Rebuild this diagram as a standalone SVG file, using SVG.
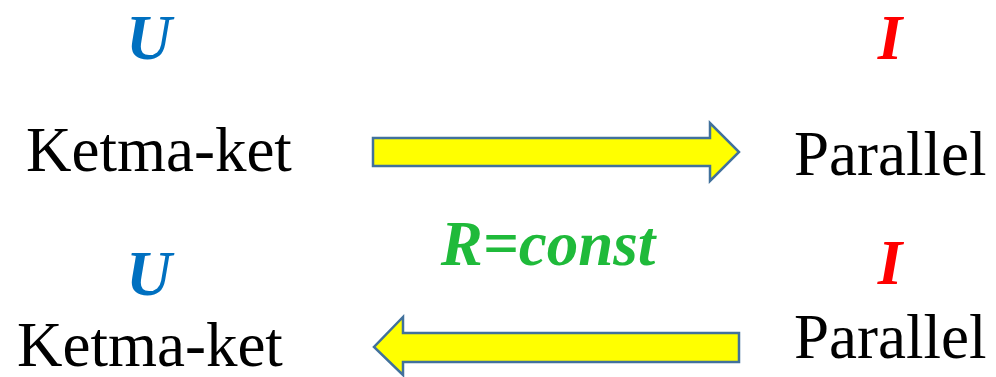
<svg xmlns="http://www.w3.org/2000/svg" width="996" height="377" viewBox="0 0 996 377">
<style>
.lbl{font-family:"Liberation Serif","Times New Roman",serif;font-size:63px;fill:#000}
.sym{font-family:"Liberation Serif","Times New Roman",serif;font-size:63px;font-weight:bold;font-style:italic;text-anchor:middle}
.u{fill:#0070C0}
.i{fill:#FF0000}
.r{fill:#1FBA3A}
.arrow{fill:#FFFF00;stroke:#41719C;stroke-width:2.5;stroke-linejoin:miter}
</style>
<rect width="996" height="377" fill="#fff"/>
<g id="top-left">
<text class="sym u" x="149" y="59">U</text>
<text class="lbl" x="26" y="171">Ketma-ket</text>
</g>
<g id="top-right">
<text class="sym i" x="890" y="59">I</text>
<text class="lbl" x="794" y="175">Parallel</text>
</g>
<g id="bottom-left">
<text class="sym u" x="149" y="295">U</text>
<text class="lbl" x="17" y="366">Ketma-ket</text>
</g>
<g id="bottom-right">
<text class="sym i" x="890" y="284">I</text>
<text class="lbl" x="794" y="358">Parallel</text>
</g>
<g id="label">
<text class="sym r" x="548" y="265">R=const</text>
</g>
<g id="connectors">
<polygon class="arrow" points="373,138 710,138 710,123 739,152 710,181 710,166 373,166"/>
<polygon class="arrow" points="739,333 403,333 403,317 374,347 403,375 403,362 739,362"/>
</g>
</svg>
